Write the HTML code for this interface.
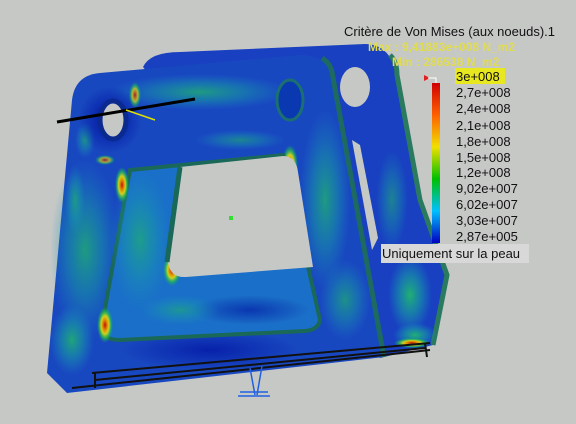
<!DOCTYPE html>
<html><head><meta charset="utf-8"><style>
html,body{margin:0;padding:0;background:#c6c8c6;}
svg{display:block;font-family:"Liberation Sans","DejaVu Sans",sans-serif;}
</style></head><body>
<svg width="576" height="424" viewBox="0 0 576 424">
<defs>
<radialGradient id="hot" cx="50%" cy="50%" r="50%"><stop offset="0" stop-color="#c01010"/><stop offset="0.3" stop-color="#e09000"/><stop offset="0.5" stop-color="#d0d020"/><stop offset="0.75" stop-color="#20c050" stop-opacity="0.7"/><stop offset="1" stop-color="#20a060" stop-opacity="0"/></radialGradient>
<radialGradient id="grn" cx="50%" cy="50%" r="50%"><stop offset="0" stop-color="#20b070"/><stop offset="0.5" stop-color="#18a0a0" stop-opacity="0.6"/><stop offset="1" stop-color="#1890c0" stop-opacity="0"/></radialGradient>
<radialGradient id="dk" cx="50%" cy="50%" r="50%"><stop offset="0" stop-color="#0010a0"/><stop offset="1" stop-color="#0010a0" stop-opacity="0"/></radialGradient>
<linearGradient id="scale" x1="0" y1="0" x2="0" y2="1"><stop offset="0" stop-color="#d00000"/><stop offset="0.2" stop-color="#ff6000"/><stop offset="0.4" stop-color="#f0e000"/><stop offset="0.6" stop-color="#00c000"/><stop offset="0.8" stop-color="#00c0ff"/><stop offset="1" stop-color="#0000c0"/></linearGradient>
</defs>
<rect width="576" height="424" fill="#c6c8c6"/>
<!-- back plate -->
<path d="M143,67 Q150,52 180,52 L365,44 Q390,44 397,75 L420,200 L447,275 L433,345 L380,358 Z" fill="#1840c0"/>
<path d="M390,55 Q397,62 397,75 L420,200 L447,275 L433,345" fill="none" stroke="#2a7a60" stroke-width="5"/>
<ellipse cx="410" cy="295" rx="22" ry="40" fill="url(#grn)"/>
<ellipse cx="415" cy="335" rx="22" ry="12" fill="url(#grn)"/>
<ellipse cx="412" cy="343" rx="18" ry="5" fill="url(#hot)"/>
<ellipse cx="392" cy="200" rx="16" ry="50" fill="url(#grn)" opacity="0.6"/>
<ellipse cx="355" cy="87" rx="15" ry="20" fill="#c6c8c6"/>
<polygon points="352,140 360,145 378,238 372,250" fill="#c6c8c6"/>
<!-- front plate -->
<path d="M72,100 Q75,75 100,73 L300,55 Q325,55 332,72 L384,357 L67,393 L47,373 Z" fill="#1848c0"/>
<path d="M322,58 Q330,63 332,72 L384,357" fill="none" stroke="#1c6a60" stroke-width="5"/>
<ellipse cx="200" cy="92" rx="90" ry="18" fill="url(#grn)" opacity="0.8"/>
<ellipse cx="85" cy="250" rx="35" ry="90" fill="url(#grn)" opacity="0.8"/>
<ellipse cx="72" cy="340" rx="22" ry="35" fill="url(#grn)" opacity="0.9"/>
<ellipse cx="325" cy="200" rx="25" ry="90" fill="url(#grn)" opacity="0.8"/>
<ellipse cx="345" cy="300" rx="25" ry="40" fill="url(#grn)" opacity="0.7"/>
<ellipse cx="240" cy="140" rx="45" ry="10" fill="url(#grn)" opacity="0.6"/>
<ellipse cx="75" cy="200" rx="10" ry="35" fill="url(#grn)" opacity="0.7"/>
<ellipse cx="85" cy="140" rx="10" ry="18" fill="url(#grn)" opacity="0.7"/>
<ellipse cx="210" cy="350" rx="90" ry="20" fill="url(#dk)" opacity="0.7"/>
<ellipse cx="110" cy="120" rx="32" ry="34" fill="url(#dk)"/>
<ellipse cx="135" cy="95" rx="6" ry="13" fill="url(#hot)" opacity="0.8"/>
<ellipse cx="105" cy="160" rx="10" ry="5" fill="url(#hot)" opacity="0.7"/>
<ellipse cx="290" cy="165" rx="8" ry="20" fill="url(#hot)"/>
<ellipse cx="310" cy="310" rx="8" ry="18" fill="url(#hot)"/>
<ellipse cx="113" cy="120" rx="13" ry="19" fill="#c6c8c6" stroke="#0a2a90" stroke-width="5"/>
<ellipse cx="290" cy="100" rx="13" ry="20" fill="#0a38b0" stroke="#1a7070" stroke-width="3"/>
<!-- front window showing back frame -->
<path d="M130,170 L283,155 L320,320 Q318,330 305,331 L120,340 Q100,340 102,325 Z" fill="#1a70c8" stroke="#1a6858" stroke-width="4"/>
<ellipse cx="140" cy="240" rx="30" ry="70" fill="url(#grn)" opacity="0.7"/>
<ellipse cx="250" cy="310" rx="60" ry="15" fill="url(#dk)" opacity="0.6"/>
<ellipse cx="180" cy="310" rx="40" ry="15" fill="url(#grn)" opacity="0.6"/>
<ellipse cx="122" cy="185" rx="7" ry="18" fill="url(#hot)"/>
<ellipse cx="105" cy="325" rx="8" ry="18" fill="url(#hot)"/>
<ellipse cx="172" cy="270" rx="9" ry="16" fill="url(#hot)"/>
<path d="M180,167 L283,156 Q296,156 298,172 L313,267 L186,277 Q170,278 168,262 Z" fill="#c6c8c6"/>
<line x1="180" y1="167" x2="167" y2="262" stroke="#1a6858" stroke-width="5"/>
<rect x="229" y="216" width="4" height="4" fill="#30e030"/>
<!-- tools -->
<line x1="57" y1="122" x2="195" y2="99" stroke="#000" stroke-width="3"/>
<line x1="126" y1="110" x2="155" y2="120" stroke="#e0e000" stroke-width="1.5"/>
<g stroke="#111" stroke-width="2">
<line x1="92" y1="373" x2="430" y2="343"/><line x1="72" y1="388" x2="430" y2="350"/><line x1="95" y1="380" x2="425" y2="348"/><line x1="95" y1="372" x2="95" y2="388"/><line x1="425" y1="343" x2="427" y2="357"/></g>
<g stroke="#2060e0" stroke-width="1.5"><line x1="250" y1="368" x2="255" y2="395"/><line x1="262" y1="366" x2="257" y2="395"/><line x1="238" y1="396" x2="270" y2="396"/><line x1="240" y1="392" x2="268" y2="392"/></g>
<!-- legend -->
<text x="344" y="36" font-size="13" fill="#111">Critère de Von Mises (aux noeuds).1</text>
<text x="368" y="51" font-size="12" font-weight="bold" fill="#e0dc50">Max : 9,41883e+008 N_m2</text>
<text x="392" y="66" font-size="12" font-weight="bold" fill="#e0dc50">Min : 286538 N_m2</text>
<rect x="432" y="83" width="8" height="160" fill="url(#scale)"/>
<polygon points="424,75 430,78 424,81" fill="#e02020"/>
<polyline points="428,78 436,78 436,83" fill="none" stroke="#fff" stroke-width="1"/>
<rect x="455" y="68" width="50" height="16" fill="#e8e820"/>
<g font-size="13" fill="#111">
<text x="456" y="81">3e+008</text><text x="456" y="97">2,7e+008</text><text x="456" y="113">2,4e+008</text><text x="456" y="130">2,1e+008</text><text x="456" y="146">1,8e+008</text><text x="456" y="162">1,5e+008</text><text x="456" y="177">1,2e+008</text><text x="456" y="193">9,02e+007</text><text x="456" y="209">6,02e+007</text><text x="456" y="225">3,03e+007</text><text x="456" y="241">2,87e+005</text></g>
<rect x="381" y="244" width="148" height="19" fill="#d8d8d8"/>
<text x="382" y="258" font-size="13" fill="#111">Uniquement sur la peau</text>
</svg>
</body></html>
